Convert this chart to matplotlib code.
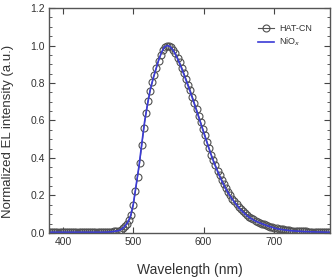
import matplotlib
matplotlib.use("Agg")
import matplotlib.pyplot as plt
from matplotlib.ticker import MultipleLocator

plt.rcParams['font.family'] = ['Liberation Sans', 'DejaVu Sans']

# HAT-CN: wavelength grid (nm), 3 nm step, 380..779
wl_hatcn = list(range(380, 780, 3))
hatcn = [
    0.004, 0.004, 0.004, 0.004, 0.004, 0.004, 0.004, 0.004, 0.004, 0.004,   # 380-407
    0.004, 0.004, 0.004, 0.004, 0.004, 0.004, 0.004, 0.004, 0.004, 0.004,   # 410-437
    0.004, 0.004, 0.004, 0.004, 0.004, 0.004, 0.004, 0.005, 0.005, 0.006,   # 440-467
    0.007, 0.009, 0.011, 0.013, 0.018, 0.025, 0.036, 0.050, 0.068, 0.095,   # 470-497
    0.150, 0.225, 0.300, 0.375, 0.470, 0.560, 0.640, 0.705, 0.760, 0.805,   # 500-527
    0.845, 0.882, 0.920, 0.950, 0.977, 0.994, 1.000, 0.998, 0.990, 0.975,   # 530-557
    0.958, 0.935, 0.910, 0.882, 0.852, 0.822, 0.792, 0.762, 0.728, 0.694,   # 560-587
    0.660, 0.625, 0.590, 0.555, 0.520, 0.485, 0.451, 0.418, 0.388, 0.360,   # 590-617
    0.333, 0.307, 0.283, 0.260, 0.238, 0.218, 0.200, 0.183, 0.168, 0.153,   # 620-647
    0.139, 0.127, 0.116, 0.105, 0.096, 0.087, 0.079, 0.072, 0.066, 0.060,   # 650-677
    0.055, 0.050, 0.046, 0.042, 0.038, 0.034, 0.031, 0.028, 0.025, 0.023,   # 680-707
    0.021, 0.019, 0.017, 0.015, 0.014, 0.013, 0.012, 0.011, 0.010, 0.009,   # 710-737
    0.009, 0.008, 0.008, 0.007, 0.007, 0.006, 0.006, 0.006, 0.005, 0.005,   # 740-767
    0.005, 0.005, 0.004, 0.004,                                             # 770-779
]

# NiOx: wavelength grid (nm), 4 nm step, 380..780
wl_niox = list(range(380, 781, 4))
niox = [
    0.004, 0.004, 0.004, 0.004, 0.004, 0.004, 0.004, 0.004, 0.004, 0.004,   # 380-416
    0.004, 0.004, 0.004, 0.004, 0.004, 0.004, 0.004, 0.004, 0.004, 0.004,   # 420-456
    0.004, 0.005, 0.006, 0.008, 0.010, 0.013, 0.022, 0.036, 0.056, 0.090,   # 460-496
    0.155, 0.255, 0.355, 0.475, 0.592, 0.682, 0.762, 0.822, 0.872, 0.922,   # 500-536
    0.962, 0.991, 1.000, 0.995, 0.978, 0.953, 0.921, 0.885, 0.846, 0.805,   # 540-576
    0.764, 0.720, 0.675, 0.630, 0.584, 0.538, 0.492, 0.447, 0.403, 0.364,   # 580-616
    0.328, 0.293, 0.262, 0.233, 0.207, 0.185, 0.164, 0.145, 0.127, 0.112,   # 620-656
    0.098, 0.086, 0.076, 0.067, 0.060, 0.054, 0.048, 0.042, 0.037, 0.032,   # 660-696
    0.027, 0.023, 0.020, 0.018, 0.016, 0.014, 0.012, 0.011, 0.010, 0.009,   # 700-736
    0.008, 0.007, 0.007, 0.006, 0.006, 0.005, 0.005, 0.005, 0.004, 0.004,   # 740-776
    0.004,                                                                 # 780
]

fig = plt.figure(figsize=(3.36, 2.77), dpi=100)
ax = fig.add_axes([0.146, 0.159, 0.836, 0.812])

ax.plot(wl_hatcn, hatcn, color='#555555', lw=0.8, marker='o', ms=5,
        mfc='none', mec='#505050', mew=0.8, label='HAT-CN')
ax.plot(wl_niox, niox, color='#3b3bd6', lw=1.2, label='NiO$_x$')

ax.set_xlim(380, 780)
ax.set_ylim(0, 1.2)
ax.xaxis.set_major_locator(MultipleLocator(100))
ax.yaxis.set_major_locator(MultipleLocator(0.2))
ax.yaxis.set_minor_locator(MultipleLocator(0.05))
ax.yaxis.set_major_formatter(plt.FormatStrFormatter('%.1f'))

ax.tick_params(which='both', direction='in', top=True, right=True,
               color='#444444', labelcolor='#333333', labelsize=7.5, pad=3)
ax.tick_params(which='major', length=4, width=0.8)
ax.tick_params(which='minor', length=2, width=0.6)
for s in ax.spines.values():
    s.set_color('#555555')
    s.set_linewidth(1.0)

ax.set_xlabel('Wavelength (nm)', fontsize=10, color='#333333')
ax.set_ylabel('Normalized EL intensity (a.u.)', fontsize=9.5, color='#333333')
ax.xaxis.set_label_coords(0.5, -0.135)
ax.yaxis.set_label_coords(-0.126, 0.453)

ax.legend(loc='upper left', bbox_to_anchor=(0.744, 0.929), frameon=False,
          fontsize=6.5, handlelength=1.8, handletextpad=0.5, labelspacing=0.3,
          borderpad=0, borderaxespad=0, labelcolor='#333333')

fig.savefig('out.png', dpi=100)
